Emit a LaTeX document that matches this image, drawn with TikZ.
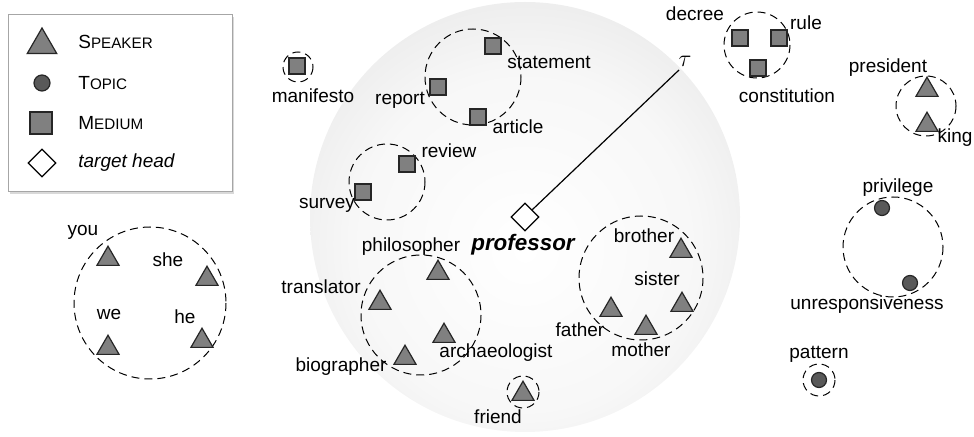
\documentclass[tikz,border=0pt]{standalone}
\usepackage{fontspec}
\setmainfont{Liberation Sans}
\usetikzlibrary{shapes.geometric,shadows}

\pgfdeclareradialshading{bigball}{\pgfpoint{0bp}{-4bp}}{color(0bp)=(white); color(20bp)=(gray!6); color(45bp)=(gray!30); color(50bp)=(gray!40); color(100bp)=(gray!40)}

\tikzset{
	speaker/.style={regular polygon, regular polygon sides=3, draw=black!85, line width=0.6pt, fill=black!50, minimum size=12.8pt, inner sep=0pt, yshift=-1.5pt},
	medium/.style={rectangle, draw=black!85, line width=0.6pt, fill=black!50, minimum size=8pt, inner sep=0pt},
	topic/.style={circle, draw=black!85, line width=0.6pt, fill=black!65, minimum size=7.5pt, inner sep=0pt},
	headmark/.style={diamond, draw=black, line width=0.6pt, fill=white, minimum size=14pt, inner sep=0pt},
	group/.style={dash pattern=on 4pt off 2.5pt, line width=0.5pt},
	lbl/.style={inner sep=1pt, font=\fontsize{9.5}{11}\selectfont}
}
\newcommand{\smallcap}[2]{#1{\fontsize{7.6}{9}\selectfont #2}}

\begin{document}
\begin{tikzpicture}[x=0.5pt, y=-0.5pt]
\useasboundingbox (0,0) rectangle (974,437);

% big circle round the target head
\shade[shading=bigball] (525,217) circle (215);

% legend
\draw[draw=gray!70, fill=white, line width=0.5pt, drop shadow={shadow xshift=1pt, shadow yshift=-1pt, opacity=0.3}] (8,15) rectangle (232,192);
\node[speaker, minimum size=17pt] (leg-speaker) at (42,42) {};
\node[topic, minimum size=8pt] (leg-topic) at (42,83) {};
\node[medium, minimum size=11pt] (leg-medium) at (41,123) {};
\node[headmark] (leg-head) at (42,163) {};
\node[lbl, anchor=west] (leg-speaker-txt) at (76,42) {\smallcap{S}{PEAKER}};
\node[lbl, anchor=west] (leg-topic-txt) at (76,83) {\smallcap{T}{OPIC}};
\node[lbl, anchor=west] (leg-medium-txt) at (76,123) {\smallcap{M}{EDIUM}};
\node[lbl, anchor=west] (leg-head-txt) at (76,163) {\itshape target head};

% target head and tau
\node[headmark] (head) at (525,217) {};
\coordinate (tau) at (679,70);
\draw[line width=0.6pt] (head.north east) -- (tau);
\node[inner sep=1pt, font=\fontsize{12}{13}\selectfont] (tau-txt) at (685,61) {$\tau$};
\node[inner sep=1pt, font=\fontsize{11.2}{13}\selectfont\bfseries\itshape] (professor) at (523,245) {professor};

% statement, report, article
\draw[group] (473,77) circle (48);
\node[medium] (m-statement) at (493,46) {};
\node[medium] (m-report) at (438,87) {};
\node[medium] (m-article) at (478,117) {};
\node[lbl] (statement) at (549,62) {statement};
\node[lbl] (report) at (400,100) {report};
\node[lbl] (article) at (518,127) {article};

% review, survey
\draw[group] (387,182) circle (38);
\node[medium] (m-review) at (407,164) {};
\node[medium] (m-survey) at (363,192) {};
\node[lbl] (review) at (449,151) {review};
\node[lbl] (survey) at (327,205) {survey};

% manifesto
\draw[group] (298,67) circle (15);
\node[medium] (m-manifesto) at (297,66) {};
\node[lbl] (manifesto) at (313,96) {manifesto};

% philosopher, translator, archaeologist, biographer
\draw[group] (421,315) circle (60);
\node[speaker] (s-philosopher) at (438,270) {};
\node[speaker] (s-translator) at (380,300) {};
\node[speaker] (s-archaeologist) at (444,333) {};
\node[speaker] (s-biographer) at (405,355) {};
\node[lbl] (philosopher) at (411,247) {philosopher};
\node[lbl] (translator) at (321,287) {translator};
\node[lbl] (archaeologist) at (496,353) {archaeologist};
\node[lbl] (biographer) at (341,367) {biographer};

% friend
\draw[group] (523,392) circle (16);
\node[speaker] (s-friend) at (523,391) {};
\node[lbl] (friend) at (498,417) {friend};

% family
\draw[group] (641,278) circle (62);
\node[speaker] (s-brother) at (681,248) {};
\node[speaker] (s-sister) at (682,302) {};
\node[speaker] (s-father) at (611,307) {};
\node[speaker] (s-mother) at (646,325) {};
\node[lbl] (brother) at (644,236) {brother};
\node[lbl] (sister) at (657,279) {sister};
\node[lbl] (father) at (580,330) {father};
\node[lbl] (mother) at (641,350) {mother};

% decree, rule, constitution
\draw[group] (757,45) circle (33);
\node[medium] (m-decree) at (740,38) {};
\node[medium] (m-rule) at (779,38) {};
\node[medium] (m-constitution) at (758,68) {};
\node[lbl] (decree) at (695,14) {decree};
\node[lbl] (rule) at (806,23) {rule};
\node[lbl] (constitution) at (787,96) {constitution};

% president, king
\draw[group] (926,106) circle (30);
\node[speaker] (s-president) at (927,87) {};
\node[speaker] (s-king) at (927,122) {};
\node[lbl] (president) at (888,68) {president};
\node[lbl] (king) at (955,138) {king};

% privilege, unresponsiveness
\draw[group] (893,247) circle (50);
\node[topic] (t-privilege) at (882,208) {};
\node[topic] (t-unresp) at (910,283) {};
\node[lbl] (privilege) at (898,188) {privilege};
\node[lbl] (unresponsiveness) at (867,305) {unresponsiveness};

% pattern
\draw[group] (819,380) circle (16);
\node[topic] (t-pattern) at (819,380) {};
\node[lbl] (pattern) at (819,354) {pattern};

% you, she, we, he
\draw[group] (150,303) circle (76);
\node[speaker] (s-you) at (108,256) {};
\node[speaker] (s-she) at (207,276) {};
\node[speaker] (s-we) at (108,345) {};
\node[speaker] (s-he) at (202,338) {};
\node[lbl] (you) at (83,232) {you};
\node[lbl] (she) at (168,260) {she};
\node[lbl] (we) at (109,314) {we};
\node[lbl] (he) at (185,317) {he};

\end{tikzpicture}
\end{document}
